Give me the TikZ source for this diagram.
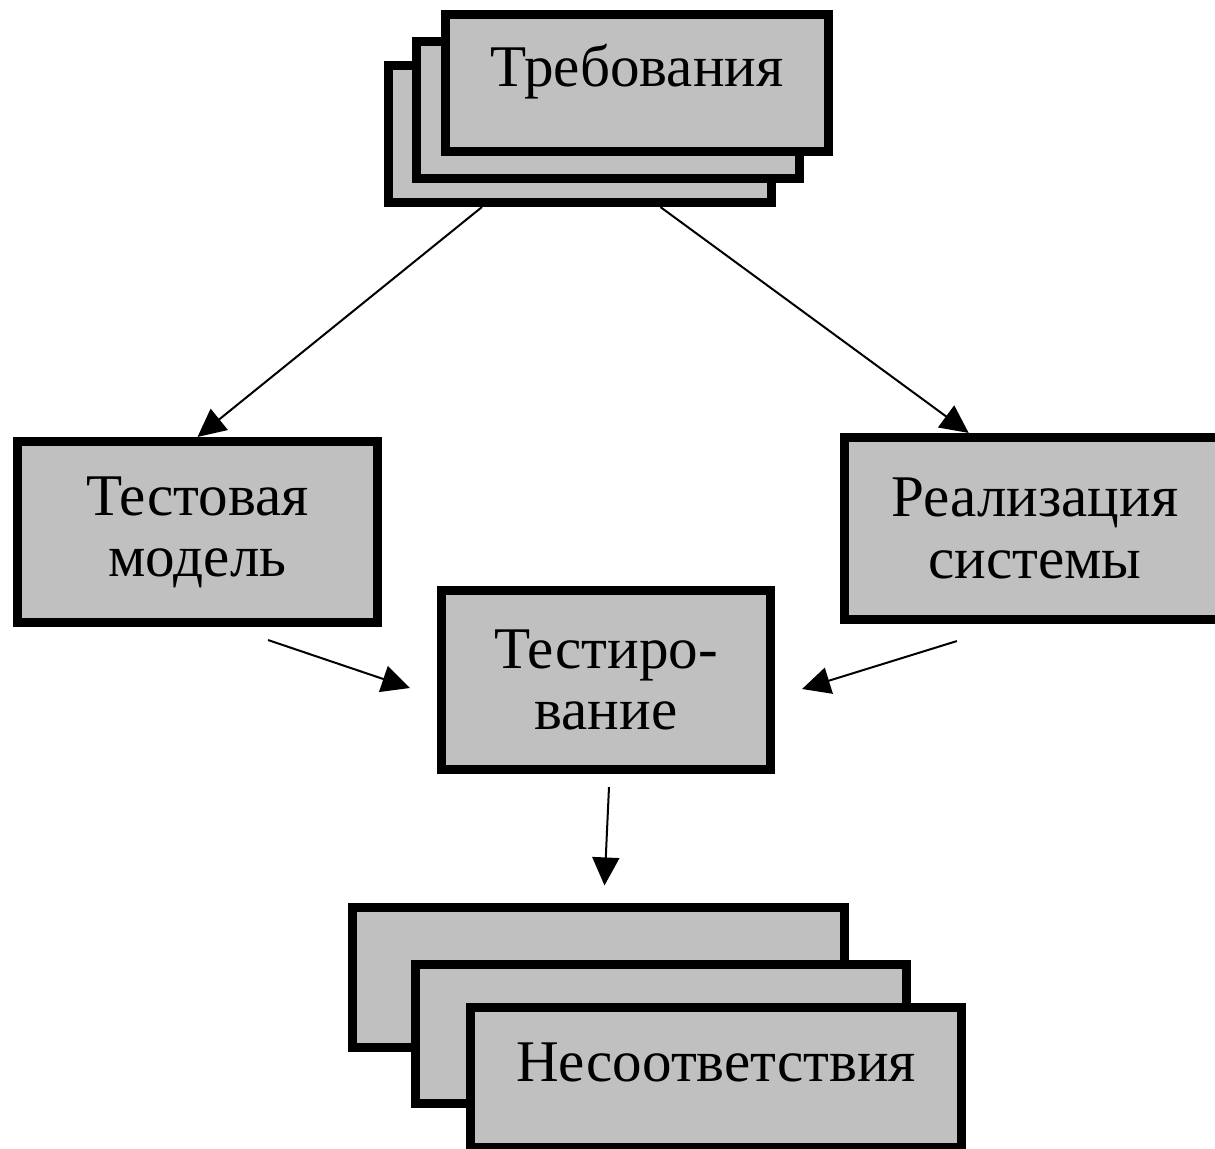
\documentclass[tikz,border=0pt]{standalone}
\usepackage{fontspec}
\setmainfont{Liberation Serif}
\usepackage{tikz}
\usetikzlibrary{arrows.meta,calc}
\definecolor{boxgray}{RGB}{192,192,192}

\begin{document}
\begin{tikzpicture}[x=0.01cm, y=-0.01cm,
    graybox/.style={draw, fill=boxgray, line width=0.09cm, align=center,
        inner sep=0pt, font=\fontsize{16.8}{17.4}\selectfont},
    reqbox/.style={graybox, minimum width=3.83cm, minimum height=1.37cm,
        text height=0.7em, text depth=0.5em},
    errbox/.style={graybox, minimum width=4.91cm, minimum height=1.39cm,
        text height=0.7em, text depth=0.5em},
    arrowline/.style={line width=0.02cm, -{Triangle[length=0.28cm,width=0.27cm]}}]
    \clip (0,0) rectangle (1215,1149);
    \fill[white] (0,0) rectangle (1215,1149);
    % Stack of requirements
    \node[reqbox] (req3) at (580,134) {};
    \node[reqbox] (req2) at (608,110) {};
    \node[reqbox] (req1) at (637,83) {Требования};
    % Middle row
    \node[graybox, minimum width=3.60cm, minimum height=1.81cm] (model) at (197.5,532) {Тестовая\\модель};
    \node[graybox, minimum width=3.81cm, minimum height=1.82cm] (impl) at (1035,528.5) {Реализация\\системы};
    \node[graybox, minimum width=3.29cm, minimum height=1.79cm] (test) at (606,680) {Тестиро-\\вание};
    % Stack of mismatches
    \node[errbox] (err3) at (598.5,977.5) {};
    \node[errbox] (err2) at (661,1034) {};
    \node[errbox] (err1) at (716,1077.5) {Несоответствия};
    % Arrows
    \draw[arrowline] ($(req3.south west)!0.25!(req3.south east)$) -- (model.north);
    \draw[arrowline] ($(req3.south west)!0.705!(req3.south east)$) -- ($(impl.north west)!0.33!(impl.north east)$);
    \coordinate (modelout) at ($(model.south east)+(-114,13)$);
    \coordinate (implout) at ($(impl.south west)+(117,17)$);
    \coordinate (testout) at ($(test.south)+(3,13)$);
    \draw[arrowline] (modelout) -- ($(test.west)+(-27,8)$);
    \draw[arrowline] (implout) -- ($(test.east)+(27,9)$);
    \draw[arrowline] (testout) -- ($(err3.north)+(6,-18)$);
\end{tikzpicture}
\end{document}
